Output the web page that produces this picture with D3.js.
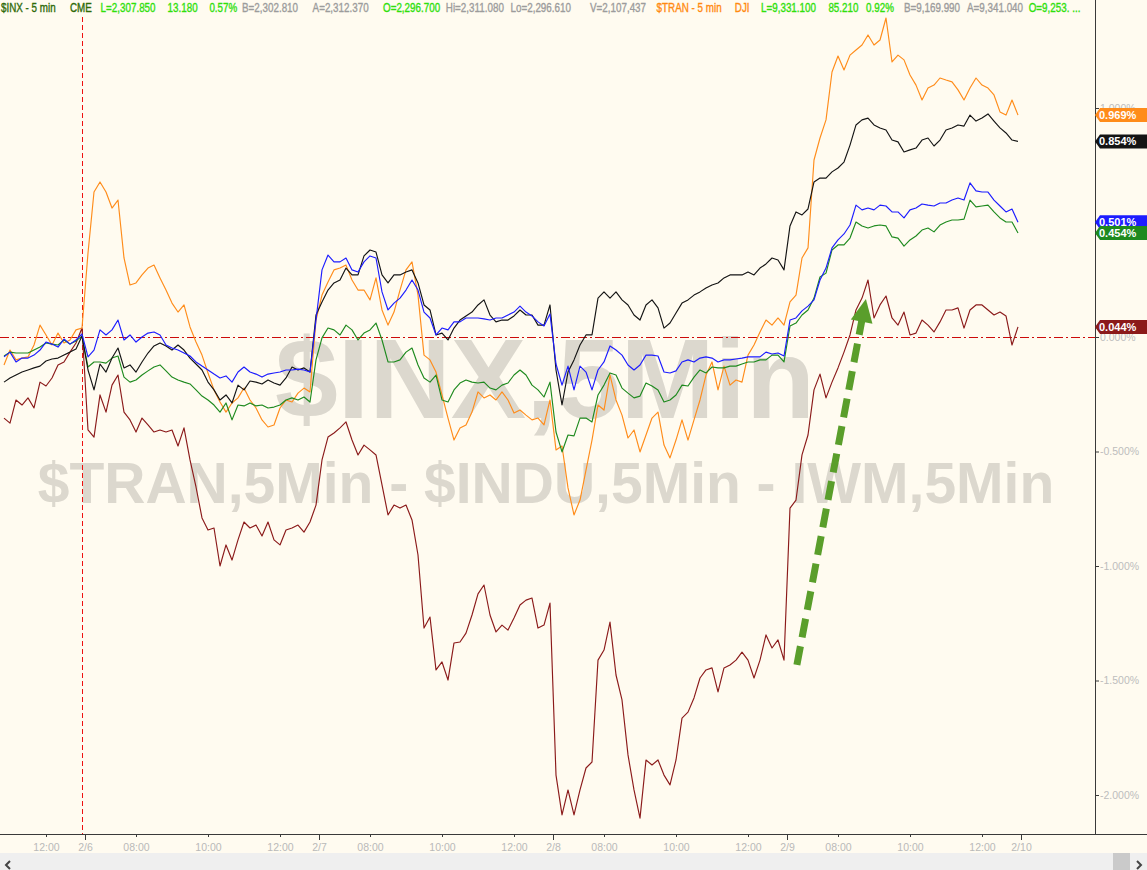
<!DOCTYPE html>
<html><head><meta charset="utf-8">
<script src="https://cdn.jsdelivr.net/npm/d3@7"></script>
<style>
html,body{margin:0;padding:0;background:#fffbf0;overflow:hidden;}
svg{display:block;}
</style></head>
<body><svg id="chart" width="1147" height="870"></svg>
<script>
// ---- data: % change, one sample every 10 minutes (every 2nd 5-min bar); bar 0 = 2/6 open ----
const sampleIndex = d3.range(-27, 312, 2);

const tranOrange = [
 -0.122,-0.057,-0.100,-0.092,-0.087,-0.035,0.052,0.009,-0.035,0.017,-0.026,-0.013,0.031,0.039,
 0.367,0.633,0.677,0.633,0.563,0.598,0.345,0.227,0.236,0.271,0.301,0.314,0.258,0.205,0.148,0.109,0.140,0.044,-0.022,-0.079,-0.157,-0.231,-0.284,-0.328,-0.288,-0.266,-0.223,-0.275,-0.310,-0.362,-0.393,-0.384,-0.310,-0.275,-0.284,-0.245,-0.223,-0.240,0.074,
 0.183,0.240,0.293,0.301,0.314,0.249,0.205,0.205,0.162,0.258,0.118,0.052,0.109,0.205,0.293,0.328,0.183,-0.079,-0.100,-0.153,-0.253,-0.354,-0.450,-0.397,-0.384,-0.328,-0.240,-0.266,-0.253,-0.275,-0.240,-0.275,-0.332,-0.319,-0.341,-0.362,-0.354,-0.384,-0.275,
 -0.493,-0.476,-0.659,-0.777,-0.712,-0.581,-0.450,-0.297,-0.319,-0.166,-0.275,-0.341,-0.441,-0.406,-0.502,-0.428,-0.354,-0.328,-0.472,-0.528,-0.450,-0.362,-0.450,-0.362,-0.275,-0.166,-0.109,-0.231,-0.127,-0.210,-0.188,-0.197,-0.079,-0.035,0.022,0.074,0.052,0.083,0.052,
 0.153,0.183,0.345,0.389,0.773,0.869,0.948,1.157,1.227,1.166,1.231,1.253,1.275,1.319,1.275,1.297,1.393,1.201,1.231,1.210,1.144,1.100,1.035,1.087,1.100,1.131,1.122,1.114,1.079,1.035,1.087,1.131,1.100,1.087,1.057,0.983,0.969,1.035,0.969
];
const induBlack = [
 -0.197,-0.179,-0.166,-0.153,-0.144,-0.135,-0.127,-0.105,-0.096,-0.092,-0.079,-0.066,-0.052,0.004,
 -0.144,-0.231,-0.118,-0.153,-0.092,-0.048,-0.135,-0.122,-0.153,-0.109,-0.070,-0.039,-0.026,-0.039,-0.057,-0.035,-0.057,-0.092,-0.118,-0.144,-0.197,-0.231,-0.275,-0.253,-0.288,-0.210,-0.231,-0.192,-0.197,-0.205,-0.188,-0.201,-0.210,-0.179,-0.131,-0.144,-0.135,-0.153,0.096,
 0.153,0.205,0.236,0.249,0.301,0.271,0.271,0.354,0.380,0.371,0.271,0.236,0.271,0.271,0.284,0.293,0.236,0.140,0.118,0.009,0.017,-0.013,0.039,0.074,0.092,0.109,0.140,0.162,0.096,0.066,0.074,0.074,0.092,0.118,0.096,0.096,0.052,0.052,0.140,
 -0.144,-0.297,-0.153,-0.100,-0.035,0.009,0.009,0.170,0.197,0.170,0.197,0.162,0.140,0.096,0.074,0.140,0.162,0.127,0.039,0.061,0.105,0.148,0.162,0.183,0.197,0.214,0.227,0.236,0.258,0.271,0.271,0.271,0.284,0.271,0.301,0.319,0.345,0.336,0.293,
 0.485,0.546,0.533,0.559,0.677,0.694,0.694,0.721,0.738,0.764,0.838,0.926,0.948,0.956,0.926,0.913,0.904,0.860,0.852,0.808,0.817,0.825,0.860,0.869,0.834,0.860,0.904,0.913,0.926,0.921,0.969,0.943,0.956,0.974,0.943,0.913,0.891,0.860,0.854
];
const inxBlue = [
 -0.087,-0.066,-0.109,-0.092,-0.092,-0.079,-0.057,-0.022,-0.031,-0.044,-0.009,-0.031,-0.013,0.013,
 -0.087,-0.057,0.031,0.009,0.031,0.074,-0.013,0.009,-0.022,0.000,0.017,0.022,0.009,-0.035,-0.048,-0.057,-0.070,-0.083,-0.109,-0.127,-0.144,-0.162,-0.179,-0.170,-0.197,-0.153,-0.131,-0.153,-0.162,-0.175,-0.162,-0.157,-0.153,-0.144,-0.144,-0.140,-0.144,-0.153,0.074,
 0.293,0.358,0.328,0.328,0.345,0.293,0.284,0.328,0.354,0.345,0.197,0.118,0.148,0.170,0.205,0.249,0.205,0.109,0.083,0.009,0.039,0.031,0.066,0.066,0.083,0.083,0.083,0.079,0.074,0.083,0.083,0.096,0.109,0.135,0.109,0.092,0.066,0.048,0.100,
 -0.118,-0.210,-0.127,-0.231,-0.127,-0.153,-0.231,-0.144,-0.109,-0.039,-0.057,-0.079,-0.122,-0.144,-0.122,-0.079,-0.079,-0.083,-0.153,-0.157,-0.148,-0.109,-0.100,-0.109,-0.092,-0.087,-0.092,-0.109,-0.100,-0.100,-0.096,-0.092,-0.087,-0.087,-0.087,-0.066,-0.074,-0.070,-0.083,
 0.074,0.083,0.114,0.135,0.162,0.249,0.301,0.389,0.424,0.450,0.489,0.576,0.555,0.563,0.555,0.576,0.572,0.546,0.546,0.520,0.555,0.563,0.581,0.576,0.572,0.585,0.585,0.598,0.607,0.598,0.673,0.638,0.633,0.633,0.598,0.572,0.546,0.559,0.501
];
const iwmGreen = [
 -0.083,-0.066,-0.070,-0.070,-0.070,-0.057,-0.044,-0.026,-0.031,-0.035,-0.013,-0.031,-0.017,0.004,
 -0.131,-0.109,-0.109,-0.114,-0.092,-0.083,-0.175,-0.197,-0.188,-0.166,-0.148,-0.131,-0.122,-0.148,-0.175,-0.188,-0.197,-0.205,-0.231,-0.258,-0.275,-0.297,-0.328,-0.288,-0.362,-0.297,-0.301,-0.288,-0.301,-0.297,-0.310,-0.306,-0.297,-0.275,-0.266,-0.275,-0.262,-0.284,-0.100,
 -0.004,0.039,0.031,0.009,0.052,0.031,-0.013,0.017,0.031,0.061,-0.013,-0.109,-0.109,-0.100,-0.066,-0.048,-0.122,-0.179,-0.197,-0.166,-0.275,-0.284,-0.231,-0.201,-0.188,-0.197,-0.201,-0.197,-0.223,-0.231,-0.210,-0.201,-0.166,-0.144,-0.166,-0.210,-0.231,-0.262,-0.197,
 -0.415,-0.502,-0.428,-0.432,-0.354,-0.354,-0.371,-0.253,-0.210,-0.157,-0.166,-0.223,-0.245,-0.266,-0.258,-0.201,-0.214,-0.231,-0.284,-0.275,-0.253,-0.210,-0.214,-0.175,-0.144,-0.157,-0.131,-0.135,-0.135,-0.127,-0.127,-0.118,-0.109,-0.109,-0.100,-0.100,-0.079,-0.079,-0.109,
 0.048,0.061,0.096,0.118,0.170,0.262,0.279,0.380,0.402,0.402,0.432,0.502,0.485,0.476,0.485,0.489,0.485,0.437,0.432,0.397,0.424,0.441,0.467,0.476,0.459,0.489,0.502,0.511,0.511,0.515,0.598,0.568,0.572,0.576,0.546,0.520,0.502,0.502,0.454
];
const darkRed = [
 -0.354,-0.376,-0.275,-0.297,-0.266,-0.310,-0.197,-0.214,-0.179,-0.122,-0.109,-0.066,-0.026,0.039,
 -0.406,-0.437,-0.253,-0.328,-0.210,-0.166,-0.328,-0.362,-0.415,-0.354,-0.384,-0.415,-0.406,-0.415,-0.406,-0.476,-0.397,-0.537,-0.655,-0.790,-0.843,-0.834,-1.000,-0.908,-0.974,-0.886,-0.808,-0.834,-0.821,-0.869,-0.808,-0.886,-0.908,-0.843,-0.834,-0.821,-0.852,-0.808,-0.734,
 -0.537,-0.437,-0.419,-0.397,-0.371,-0.450,-0.515,-0.472,-0.493,-0.515,-0.646,-0.777,-0.734,-0.747,-0.734,-0.799,-0.952,-1.271,-1.223,-1.454,-1.419,-1.498,-1.336,-1.332,-1.293,-1.214,-1.122,-1.083,-1.214,-1.288,-1.258,-1.280,-1.227,-1.170,-1.149,-1.140,-1.271,-1.258,-1.162,
 -1.913,-2.087,-1.978,-2.087,-1.978,-1.882,-1.856,-1.411,-1.367,-1.245,-1.476,-1.585,-1.825,-1.978,-2.101,-1.847,-1.869,-1.847,-1.913,-1.956,-1.847,-1.664,-1.638,-1.576,-1.489,-1.454,-1.445,-1.550,-1.445,-1.432,-1.411,-1.376,-1.411,-1.489,-1.411,-1.301,-1.358,-1.323,-1.411,
 -0.747,-0.712,-0.515,-0.428,-0.231,-0.162,-0.266,-0.197,-0.135,-0.066,0.009,0.118,0.170,0.249,0.083,0.140,0.179,0.083,0.052,0.109,0.009,0.017,0.074,0.052,0.022,0.066,0.118,0.118,0.127,0.039,0.118,0.140,0.140,0.118,0.096,0.109,0.092,-0.035,0.044
];

const seriesList = [darkRed, tranOrange, iwmGreen, induBlack, inxBlue];
const seriesColors = ["#8b1a1a", "#ff8c1a", "#1e8a1e", "#141414", "#1c1cff"];
const badgeOrder = [1, 3, 4, 2, 0]; // orange, black, blue, green, dark red

const xTickIndex = [-13,0,17,41,65,78,95,119,143,156,173,197,221,234,251,275,299,312];
const xTickLabels = ["12:00","2/6","08:00","10:00","12:00","2/7","08:00","10:00","12:00","2/8","08:00","10:00","12:00","2/9","08:00","10:00","12:00","2/10"];
const yTickValues = [1, 0.5, 0, -0.5, -1, -1.5, -2];
const markerIndex = -1;           // red dashed session marker
const arrowFrom = [237.3, -1.432]; // annotation arrow (bar index, %)
const arrowTo = [260.3, 0.166];

const headerParts = [
 ["$INX - 5 min", 1, "#2f6a08"], ["CME", 70, "#2f6a08"],
 ["L=2,307.850", 100.6, "#2fe00c"], ["13.180", 167.6, "#2fe00c"], ["0.57%", 209.4, "#2fe00c"],
 ["B=2,302.810", 242, "#9c9c9c"], ["A=2,312.370", 312.6, "#9c9c9c"],
 ["O=2,296.700", 383, "#2fe00c"], ["Hi=2,311.080", 445.8, "#9c9c9c"], ["Lo=2,296.610", 510.5, "#9c9c9c"],
 ["V=2,107,437", 590, "#9c9c9c"], ["$TRAN - 5 min", 656.6, "#ff8a10"], ["DJI", 734.8, "#ff8a10"],
 ["L=9,331.100", 761, "#2fe00c"], ["85.210", 828.4, "#2fe00c"], ["0.92%", 866, "#2fe00c"],
 ["B=9,169.990", 904, "#9c9c9c"], ["A=9,341.040", 967, "#9c9c9c"], ["O=9,253. ...", 1028.7, "#2fe00c"]
];
const watermark1 = "$INX,5Min";
const watermark2 = "$TRAN,5Min - $INDU,5Min - IWM,5Min";

// ---- layout ----
const W = 1147, H = 870, plotRight = 1095, axisY = 834;
const svg = d3.select("#chart");
const x = d3.scaleLinear().domain([0, 312]).range([85, 1021]);
const y = d3.scaleLinear().domain([-2, 1]).range([795, 108]);
const fmtPct = v => d3.format(".3f")(v).replace("\u2212", "-") + "%";
const FONT = "Liberation Sans, Arial, sans-serif";

svg.append("rect").attr("width", W).attr("height", H).attr("fill", "#fffbf0");

// watermark
svg.append("text").attr("x", 545).attr("y", 418).attr("text-anchor", "middle")
  .attr("font-family", FONT).attr("font-weight", "bold")
  .attr("font-size", 113).attr("fill", "#dcd8ce").text(watermark1);
svg.append("text").attr("x", 546).attr("y", 503).attr("text-anchor", "middle")
  .attr("font-family", FONT).attr("font-weight", "bold")
  .attr("font-size", 57).attr("fill", "#dcd8ce").text(watermark2);

// zero reference line
svg.append("line").attr("x1", 0).attr("x2", plotRight).attr("y1", y(0) + 0.5).attr("y2", y(0) + 0.5)
  .attr("stroke", "#cc0a0a").attr("stroke-width", 1).attr("stroke-dasharray", "9,3,2,3");
// session marker
svg.append("line").attr("x1", x(markerIndex) + 0.5).attr("x2", x(markerIndex) + 0.5).attr("y1", 17).attr("y2", axisY)
  .attr("stroke", "#ee1010").attr("stroke-width", 1).attr("stroke-dasharray", "5,3");

// series lines
const line = d3.line().x((d, i) => x(sampleIndex[i])).y(d => y(d));
seriesList.forEach((s, k) => {
  svg.append("path").datum(s).attr("d", line).attr("fill", "none")
    .attr("stroke", seriesColors[k]).attr("stroke-width", 1.15).attr("stroke-linejoin", "round");
});

// annotation arrow
const ax0 = x(arrowFrom[0]), ay0 = y(arrowFrom[1]), ax1 = x(arrowTo[0]), ay1 = y(arrowTo[1]);
const len = Math.hypot(ax1 - ax0, ay1 - ay0), ux = (ax1 - ax0) / len, uy = (ay1 - ay0) / len;
const headLen = 23, headHalf = 11;
const bx = ax1 - ux * headLen, by = ay1 - uy * headLen;
svg.append("line").attr("x1", ax0).attr("y1", ay0).attr("x2", bx + ux * 2).attr("y2", by + uy * 2)
  .attr("stroke", "#5a9e2b").attr("stroke-width", 7).attr("stroke-dasharray", "19,9");
svg.append("path").attr("fill", "#5a9e2b")
  .attr("d", `M${ax1},${ay1}L${bx - uy * headHalf},${by + ux * headHalf}L${bx + uy * headHalf},${by - ux * headHalf}Z`);

// bottom axis
svg.append("line").attr("x1", 0).attr("x2", W).attr("y1", axisY + 0.5).attr("y2", axisY + 0.5).attr("stroke", "#3a3a3a");
const xAxis = d3.axisBottom(x).tickValues(xTickIndex).tickFormat((d, i) => xTickLabels[i]).tickSizeOuter(0);
const gx = svg.append("g").attr("transform", `translate(0,${axisY})`).call(xAxis);
gx.select(".domain").remove();
gx.selectAll(".tick line").attr("stroke", "#3a3a3a").attr("y2", (d, i) => xTickLabels[i].includes("/") ? 6 : 3);
gx.selectAll(".tick text").attr("y", 9.5).attr("fill", "#b9b9b9")
  .attr("font-family", FONT).attr("font-size", 10.5);

// right axis
svg.append("line").attr("x1", plotRight + 0.5).attr("x2", plotRight + 0.5).attr("y1", 0).attr("y2", axisY).attr("stroke", "#3a3a3a");
const yAxis = d3.axisRight(y).tickValues(yTickValues).tickFormat(fmtPct).tickSize(4).tickSizeOuter(0);
const gy = svg.append("g").attr("transform", `translate(${plotRight},0)`).call(yAxis);
gy.select(".domain").remove();
gy.selectAll(".tick line").attr("stroke", "#3a3a3a");
gy.selectAll(".tick text").attr("x", 5).attr("fill", "#bdbdbd")
  .attr("font-family", FONT).attr("font-size", 10.5);

// last value badges
badgeOrder.forEach(k => {
  const s = seriesList[k], v = s[s.length - 1], cy = y(v);
  const g = svg.append("g");
  g.append("path").attr("fill", seriesColors[k])
    .attr("d", `M${plotRight},${cy}L${plotRight + 5},${cy - 7}L${W},${cy - 7}L${W},${cy + 7}L${plotRight + 5},${cy + 7}Z`);
  g.append("text").attr("x", plotRight + 4).attr("y", cy).attr("dy", "0.36em").attr("fill", "#ffffff")
    .attr("font-family", FONT).attr("font-weight", "bold").attr("font-size", 11)
    .text(fmtPct(v));
});

// header
const hg = svg.append("g").attr("transform", "scale(0.82,1)");
headerParts.forEach(([t, hx, c]) => {
  hg.append("text").attr("x", hx / 0.82).attr("y", 12).attr("fill", c)
    .attr("stroke", c).attr("stroke-width", 0.35)
    .attr("font-family", FONT).attr("font-size", 12).text(t);
});

// scrollbar
svg.append("rect").attr("x", 0).attr("y", 853).attr("width", W).attr("height", 17).attr("fill", "#efefef");
svg.append("rect").attr("x", 1113).attr("y", 853).attr("width", 17).attr("height", 17).attr("fill", "#cacaca");
svg.append("path").attr("d", "M10,861L6,865L10,869").attr("fill", "none").attr("stroke", "#444").attr("stroke-width", 2);
svg.append("path").attr("d", "M1137,861L1141,865L1137,869").attr("fill", "none").attr("stroke", "#444").attr("stroke-width", 2);
</script>
</body></html>
